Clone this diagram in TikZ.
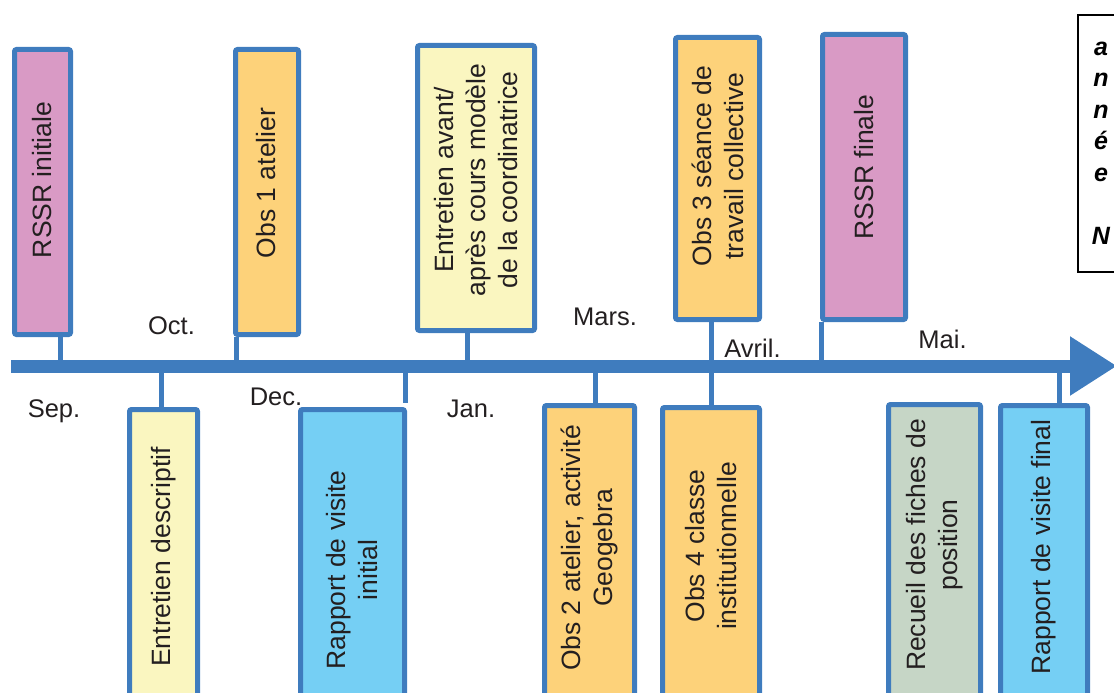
\documentclass[tikz,border=0pt]{standalone}
\usepackage{fontspec}
\setmainfont{Liberation Sans}
\usetikzlibrary{positioning,arrows.meta}
\definecolor{lineblue}{HTML}{3F7CBE}
\definecolor{rssrpink}{HTML}{D99AC5}
\definecolor{obsorange}{HTML}{FDD27A}
\definecolor{entyellow}{HTML}{FAF6C0}
\definecolor{rapblue}{HTML}{75CFF4}
\definecolor{recgreen}{HTML}{C6D6C6}
\definecolor{textgray}{HTML}{231F20}
\tikzset{
	evbox/.style   = {draw=lineblue, line width=5pt, rounded corners=2pt, inner sep=0pt},
	evtext/.style  = {rotate=90, align=center, inner sep=0pt, text=textgray,
	                  font=\fontsize{26.5}{32}\selectfont},
	month/.style   = {anchor=base, inner sep=0pt, text=textgray,
	                  font=\fontsize{25.5}{30}\selectfont},
	link/.style    = {draw=lineblue, line width=5pt}
}

\begin{document}
\begin{tikzpicture}[x=1pt, y=-1pt]
		\clip (0,0) rectangle (1114,693);
		% time line
		\coordinate (tlL)    at (11,366);
		\coordinate (tlR)    at (1117,366);
		\coordinate (tRssrA) at (60,366);
		\coordinate (tEntA)  at (161,366);
		\coordinate (tObsA)  at (236.5,366);
		\coordinate (tRapA)  at (405.5,366);
		\coordinate (tEntB)  at (467.5,366);
		\coordinate (tObsB)  at (595,366);
		\coordinate (tRssrB) at (821,366);
		\coordinate (tRapB)  at (1059.5,366);
		\draw[lineblue, line width=13pt, -{Triangle[length=47pt, width=56pt]}] (tlL) -- (tlR);

		% boxes above
		\node[evbox, fill=rssrpink,  minimum width=56pt,  minimum height=285pt] (rssrA) at (42.5,192) {};
		\node[evbox, fill=obsorange, minimum width=63pt,  minimum height=285pt] (obsA)  at (267,192) {};
		\node[evbox, fill=entyellow, minimum width=117pt, minimum height=285pt] (entB)  at (476,188) {};
		\node[evbox, fill=obsorange, minimum width=84pt,  minimum height=282pt] (obsC)  at (717.5,178.5) {};
		\node[evbox, fill=rssrpink,  minimum width=83pt,  minimum height=285pt] (rssrB) at (864,177) {};
		% boxes below
		\node[evbox, fill=entyellow, minimum width=68pt,  minimum height=310pt] (entA)  at (163.5,564.5) {};
		\node[evbox, fill=rapblue,   minimum width=104pt, minimum height=310pt] (rapA)  at (352.5,564.5) {};
		\node[evbox, fill=obsorange, minimum width=90pt,  minimum height=314pt] (obsB)  at (589.5,562.5) {};
		\node[evbox, fill=obsorange, minimum width=97pt,  minimum height=312pt] (obsD)  at (711,563.5) {};
		\node[evbox, fill=recgreen,  minimum width=92pt,  minimum height=315pt] (recA)  at (934.5,562) {};
		\node[evbox, fill=rapblue,   minimum width=87pt,  minimum height=314pt] (rapB)  at (1044,562.5) {};

		\draw[link]
			(rssrA.south -| tRssrA) -- (tRssrA)
			(obsA.south -| tObsA)   -- (tObsA)
			(entB.south -| tEntB)   -- (tEntB)
			(rssrB.south -| tRssrB) -- (tRssrB)
			(obsC.south -| obsD.north) -- (obsD.north)
			(tEntA) -- (entA.north -| tEntA)
			(tRapA) -- ([yshift=4pt]rapA.north -| tRapA)
			(tObsB) -- (obsB.north -| tObsB)
			(tRapB) -- (rapB.north -| tRapB);

		% texts
		\node[evtext] (rssrAtxt) at (42.5,180) {RSSR initiale};
		\node[evtext] (obsAtxt)  at (266,183)  {Obs 1 atelier};
		\node[evtext] (entBtxt)  at (476,180)  {Entretien avant/\\après cours modèle\\de la coordinatrice};
		\node[evtext] (obsCtxt)  at (717.5,166) {Obs 3 séance de\\travail collective};
		\node[evtext] (rssrBtxt) at (864,167)  {RSSR finale};
		\node[evtext] (entAtxt)  at (163.5,557) {Entretien descriptif};
		\node[evtext] (rapAtxt)  at (352.5,570) {Rapport de visite\\initial};
		\node[evtext] (obsBtxt)  at (589.5,548) {Obs 2 atelier, activité\\Geogebra};
		\node[evtext] (obsDtxt)  at (711,546)   {Obs 4 classe\\institutionnelle};
		\node[evtext] (recAtxt)  at (934.5,545) {Recueil des fiches de\\position};
		\node[evtext] (rapBtxt)  at (1044,547)  {Rapport de visite final};

		% months
		\node[month] (sep)   at (54,417)    {Sep.};
		\node[month] (oct)   at (171.5,334) {Oct.};
		\node[month] (dec)   at (276,405)   {Dec.};
		\node[month] (jan)   at (471,417)   {Jan.};
		\node[month] (mars)  at (605,325)   {Mars.};
		\node[month] (avril) at (752.5,357) {Avril.};
		\node[month] (mai)   at (942.5,348) {Mai.};

		% year
		\node[draw=black, line width=2pt, minimum width=50pt, minimum height=257pt] (yearbox) at (1103,143.5) {};
		\node[align=center, inner sep=0pt, font=\fontsize{25}{31.5}\selectfont\bfseries\itshape]
			(yeartxt) at (1101,143) {a\\n\\n\\é\\e\\[31.5pt]N};
	\end{tikzpicture}
\end{document}
